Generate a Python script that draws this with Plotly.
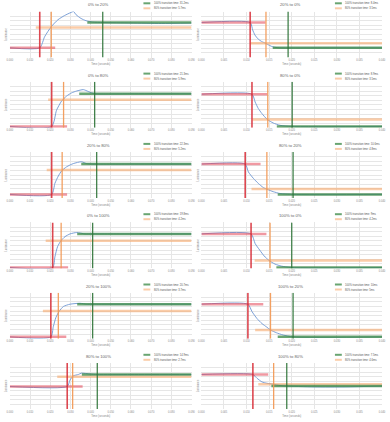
import plotly.graph_objects as go

# ---------------- data ----------------
titles = ["0% to 20%", "20% to 0%", "0% to 80%", "80% to 0%", "20% to 80%", "80% to 20%",
          "0% to 100%", "100% to 0%", "20% to 100%", "100% to 20%", "80% to 100%", "100% to 80%"]
x_max = [0.09, 0.04, 0.09, 0.04, 0.09, 0.04, 0.09, 0.04, 0.09, 0.04, 0.09, 0.04]
x_step = [0.01, 0.005, 0.01, 0.005, 0.01, 0.005, 0.01, 0.005, 0.01, 0.005, 0.01, 0.005]

t_start = [0.0148, 0.0108, 0.0207, 0.0112, 0.0207, 0.0097, 0.0212, 0.0110, 0.0203, 0.0103, 0.0284, 0.0114]
t80_ms = [5.7, 3.5, 5.9, 3.5, 5.2, 4.8, 4.2, 4.2, 3.7, 5, 2.7, 4.6]
t100_ms = [31.2, 8.4, 21.3, 8.9, 22.3, 10.6, 19.8, 9, 20.7, 10, 14.9, 7.5]

y_start = [0.21, 0.76, 0.03, 0.73, 0.08, 0.74, 0.02, 0.75, 0.04, 0.75, 0.49, 0.75]
y_80 = [0.65, 0.31, 0.61, 0.18, 0.61, 0.20, 0.60, 0.17, 0.60, 0.19, 0.70, 0.54]
y_end = [0.76, 0.21, 0.74, 0.03, 0.74, 0.08, 0.75, 0.02, 0.75, 0.04, 0.75, 0.50]

curve_t = [
    [0, 0.0148, 0.0172, 0.0205, 0.0238, 0.0270, 0.0303, 0.0315, 0.0328, 0.0352, 0.0377, 0.0410, 0.0460, 0.0600, 0.0750, 0.0900],
    [0, 0.0108, 0.01135, 0.01185, 0.01258, 0.01331, 0.01418, 0.01513, 0.01585, 0.01731, 0.025, 0.04],
    [0, 0.0207, 0.0231, 0.0256, 0.0281, 0.0306, 0.0331, 0.0364, 0.0388, 0.0405, 0.0422, 0.06, 0.09],
    [0, 0.0112, 0.0119, 0.0126, 0.0134, 0.0146, 0.0159, 0.0174, 0.0199, 0.04],
    [0, 0.0207, 0.0223, 0.0240, 0.0256, 0.0281, 0.0314, 0.0355, 0.0380, 0.0405, 0.06, 0.09],
    [0, 0.0097, 0.0104, 0.0115, 0.0126, 0.0137, 0.0146, 0.0159, 0.0174, 0.0202, 0.04],
    [0, 0.0212, 0.0223, 0.0236, 0.0253, 0.0273, 0.0298, 0.0331, 0.0372, 0.0410, 0.06, 0.09],
    [0, 0.0110, 0.0119, 0.0129, 0.0139, 0.0150, 0.0163, 0.0177, 0.0199, 0.04],
    [0, 0.0203, 0.0215, 0.0228, 0.0245, 0.0265, 0.0298, 0.0347, 0.0380, 0.0408, 0.06, 0.09],
    [0, 0.0103, 0.0112, 0.0123, 0.0134, 0.0145, 0.0153, 0.0166, 0.0181, 0.0203, 0.04],
    [0, 0.0284, 0.0298, 0.0314, 0.0339, 0.0355, 0.0397, 0.0433, 0.06, 0.09],
    [0, 0.0114, 0.0123, 0.0134, 0.0145, 0.0159, 0.0174, 0.0185, 0.025, 0.032, 0.04],
]
curve_y = [
    [0.21, 0.21, 0.45, 0.67, 0.82, 0.91, 0.98, 1.00, 0.93, 0.85, 0.80, 0.77, 0.76, 0.75, 0.74, 0.75],
    [0.76, 0.76, 0.60, 0.49, 0.40, 0.35, 0.31, 0.26, 0.23, 0.21, 0.21, 0.21],
    [0.03, 0.03, 0.38, 0.58, 0.69, 0.76, 0.80, 0.83, 0.79, 0.76, 0.74, 0.74, 0.74],
    [0.73, 0.73, 0.56, 0.42, 0.31, 0.18, 0.105, 0.054, 0.03, 0.03],
    [0.08, 0.08, 0.32, 0.48, 0.59, 0.68, 0.75, 0.79, 0.75, 0.74, 0.74, 0.74],
    [0.74, 0.74, 0.57, 0.43, 0.32, 0.23, 0.19, 0.14, 0.10, 0.08, 0.08],
    [0.02, 0.02, 0.25, 0.47, 0.60, 0.69, 0.75, 0.78, 0.75, 0.75, 0.75, 0.75],
    [0.75, 0.75, 0.54, 0.40, 0.27, 0.17, 0.094, 0.05, 0.02, 0.02],
    [0.04, 0.04, 0.26, 0.46, 0.60, 0.70, 0.75, 0.77, 0.75, 0.75, 0.75, 0.75],
    [0.75, 0.75, 0.59, 0.44, 0.33, 0.25, 0.19, 0.13, 0.08, 0.04, 0.04],
    [0.49, 0.49, 0.63, 0.72, 0.75, 0.78, 0.76, 0.75, 0.75, 0.75],
    [0.75, 0.75, 0.67, 0.59, 0.56, 0.54, 0.51, 0.50, 0.48, 0.48, 0.50],
]

# ---------------- styling ----------------
W, H = 390, 422
ROW_H = 70.3
FONT = "Liberation Sans, Arial, sans-serif"
GRID = "#e6e6e6"
RED_V = "rgba(215,40,50,0.85)"
RED_H = "rgba(228,70,85,0.55)"
ORG_V = "rgba(242,150,80,0.9)"
ORG_H = "rgba(246,170,110,0.6)"
GRN_V = "rgba(45,115,55,0.9)"
GRN_H = "rgba(55,135,65,0.75)"
BLUE = "rgba(110,150,210,1)"

fig = go.Figure()
layout = {}
annotations = []
shapes = []

for i in range(12):
    r, c = divmod(i, 2)
    n = i + 1
    xa = "x" if n == 1 else f"x{n}"
    ya = "y" if n == 1 else f"y{n}"
    cell_x0 = c * 195
    px0, px1 = (7, 192) if c == 0 else (202, 386)
    top = r * ROW_H + 11.5
    bot = r * ROW_H + 57.5
    xm = x_max[i]
    pad = 0.085 * xm

    layout["xaxis" if n == 1 else f"xaxis{n}"] = dict(
        domain=[px0 / W, px1 / W], range=[0, xm], dtick=x_step[i], tick0=0,
        tickformat=".3f", anchor=ya, showgrid=True, gridcolor=GRID, gridwidth=0.6,
        zeroline=False, showline=False, ticks="", tickfont=dict(size=2.6, color="#888"),
        title=dict(text="Time (seconds)", font=dict(size=2.8, color="#888"), standoff=1),
    )
    layout["yaxis" if n == 1 else f"yaxis{n}"] = dict(
        domain=[1 - bot / H, 1 - top / H], range=[0, 1], dtick=0.1, anchor=xa,
        showgrid=True, gridcolor=GRID, gridwidth=0.6, zeroline=False, showline=False,
        showticklabels=False, ticks="",
        title=dict(text="Luminance", font=dict(size=2.6, color="#888"), standoff=1),
    )

    ts = t_start[i]
    t80 = ts + t80_ms[i] / 1000
    t100 = ts + t100_ms[i] / 1000

    # measured curve
    fig.add_trace(go.Scatter(x=curve_t[i], y=curve_y[i], xaxis=xa, yaxis=ya, mode="lines",
                             line=dict(color=BLUE, width=0.9, shape="spline", smoothing=0.6),
                             showlegend=False, hoverinfo="skip"))
    # horizontal level lines
    fig.add_trace(go.Scatter(x=[0, ts + pad], y=[y_start[i], y_start[i]], xaxis=xa, yaxis=ya,
                             mode="lines", line=dict(color=RED_H, width=2.5), showlegend=False))
    fig.add_trace(go.Scatter(x=[t80 - pad, xm], y=[y_80[i], y_80[i]], xaxis=xa, yaxis=ya,
                             mode="lines", line=dict(color=ORG_H, width=2.5), showlegend=False))
    fig.add_trace(go.Scatter(x=[t100 - pad, xm], y=[y_end[i], y_end[i]], xaxis=xa, yaxis=ya,
                             mode="lines", line=dict(color=GRN_H, width=2.5), showlegend=False))
    # vertical time markers
    fig.add_trace(go.Scatter(x=[ts, ts], y=[0, 1], xaxis=xa, yaxis=ya, mode="lines",
                             line=dict(color=RED_V, width=1.6), showlegend=False))
    fig.add_trace(go.Scatter(x=[t80, t80], y=[0, 1], xaxis=xa, yaxis=ya, mode="lines",
                             line=dict(color=ORG_V, width=1.3), showlegend=False))
    fig.add_trace(go.Scatter(x=[t100, t100], y=[0, 1], xaxis=xa, yaxis=ya, mode="lines",
                             line=dict(color=GRN_V, width=1.3), showlegend=False))

    # panel title
    annotations.append(dict(text=titles[i], x=(cell_x0 + 97.5) / W, y=1 - (r * ROW_H + 5) / H,
                            xref="paper", yref="paper", showarrow=False, xanchor="center",
                            yanchor="middle", font=dict(size=4.2, color="#666", family=FONT)))
    # legend entries
    for k, (lab, col) in enumerate([(f"100% transition time: {t100_ms[i]:g}ms", GRN_H),
                                     (f"80% transition time: {t80_ms[i]:g}ms", ORG_H)]):
        yy = 1 - (r * ROW_H + 3.3 + 5 * k) / H
        shapes.append(dict(type="line", xref="paper", yref="paper",
                           x0=(cell_x0 + 143) / W, x1=(cell_x0 + 150) / W, y0=yy, y1=yy,
                           line=dict(color=col, width=2)))
        annotations.append(dict(text=lab, x=(cell_x0 + 151.5) / W, y=yy, xref="paper", yref="paper",
                                showarrow=False, xanchor="left", yanchor="middle",
                                font=dict(size=2.7, color="#555", family=FONT)))

fig.update_layout(
    width=W, height=H, margin=dict(l=0, r=0, t=0, b=0),
    paper_bgcolor="white", plot_bgcolor="white",
    font=dict(family=FONT), showlegend=False,
    annotations=annotations, shapes=shapes, **layout,
)
fig.write_html("out.html")
